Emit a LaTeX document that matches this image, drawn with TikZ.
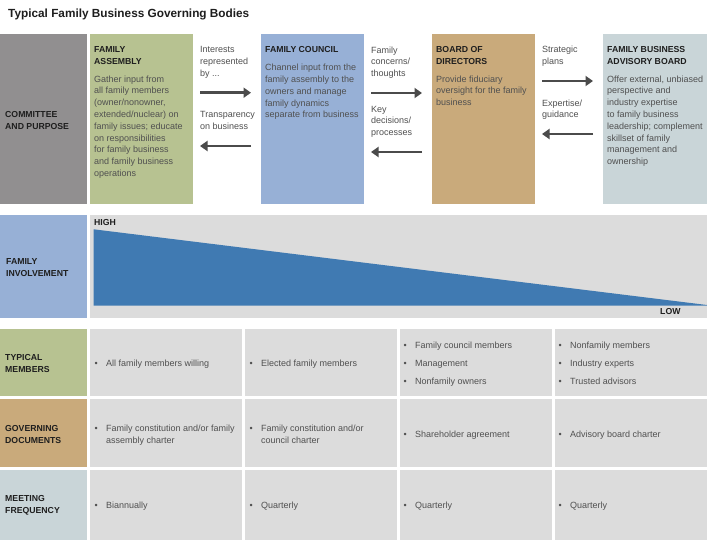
\documentclass[tikz,border=0pt]{standalone}
\usepackage{fontspec}
\setmainfont{Liberation Sans}
\usetikzlibrary{arrows.meta}
\definecolor{cgray}{RGB}{145,143,144}
\definecolor{cgreen}{RGB}{183,194,145}
\definecolor{cblue}{RGB}{151,176,214}
\definecolor{cbrown}{RGB}{201,170,123}
\definecolor{cadv}{RGB}{201,213,216}
\definecolor{ccell}{RGB}{220,220,220}
\definecolor{ctri}{RGB}{64,122,178}
\definecolor{hdc}{RGB}{30,30,30}
\definecolor{bdc}{RGB}{80,80,80}
\definecolor{arrc}{RGB}{75,75,75}
\newcommand\hdfont{\fontsize{8.7}{12}\selectfont\bfseries}
\newcommand\bdfont{\fontsize{9}{11.8}\selectfont}
\newcommand\bul[1]{\makebox[11.5pt][l]{\textbullet}#1}
\newcommand\bind{\hspace*{11.5pt}}
\begin{document}
% multi-line nodes are anchored at the baseline of their LAST line
\begin{tikzpicture}[x=1pt,y=-1pt,
  panel/.style={draw=none, inner sep=0pt, outer sep=0pt, anchor=north west},
  hd/.style={anchor=base west, inner sep=0pt, align=left, font=\hdfont, text=hdc},
  bd/.style={anchor=base west, inner sep=0pt, align=left, font=\bdfont, text=bdc},
  flow/.style={draw=arrc, line width=2.8pt, -{Triangle[length=7.5pt,width=10pt]}}]
\useasboundingbox[fill=white] (0,0) rectangle (707,544);

% title
\node[anchor=base west, inner sep=0pt, font=\fontsize{11.8}{14}\selectfont\bfseries, text=hdc] (title) at (8,17.5) {Typical Family Business Governing Bodies};

% top panels
\node[panel, fill=cgray, minimum width=87pt, minimum height=170pt] (cp) at (0,34) {};
\node[panel, fill=cgreen, minimum width=103pt, minimum height=170pt] (fa) at (90,34) {};
\node[panel, fill=cblue, minimum width=103pt, minimum height=170pt] (fc) at (261,34) {};
\node[panel, fill=cbrown, minimum width=103pt, minimum height=170pt] (bod) at (432,34) {};
\node[panel, fill=cadv, minimum width=104pt, minimum height=170pt] (adv) at (603,34) {};

\node[hd] (cpt) at (5,129.3) {COMMITTEE\\AND PURPOSE};

\node[hd] (fah) at (94,64.5) {FAMILY\\ASSEMBLY};
\node[bd] (fab) at (94,176.4) {Gather input from\\all family members\\(owner/nonowner,\\extended/nuclear) on\\family issues; educate\\on responsibilities\\for family business\\and family business\\operations};

\node[hd] (fch) at (265,52.5) {FAMILY COUNCIL};
\node[bd] (fcb) at (265,117.9) {Channel input from the\\family assembly to the\\owners and manage\\family dynamics\\separate from business};

\node[hd] (bodh) at (436,64.5) {BOARD OF\\DIRECTORS};
\node[bd] (bodb) at (436,105.6) {Provide fiduciary\\oversight for the family\\business};

\node[hd] (advh) at (607,64.5) {FAMILY BUSINESS\\ADVISORY BOARD};
\node[bd] (advb) at (607,164.6) {Offer external, unbiased\\perspective and\\industry expertise\\to family business\\leadership; complement\\skillset of family\\management and\\ownership};

% arrow labels
\node[bd] (l1) at (200,76.3) {Interests\\represented\\by ...};
\node[bd] (l2) at (200,129.5) {Transparency\\on business};
\node[bd] (l3) at (371,76.6) {Family\\concerns/\\thoughts};
\node[bd] (l4) at (371,135.6) {Key\\decisions/\\processes};
\node[bd] (l5) at (542,64.5) {Strategic\\plans};
\node[bd] (l6) at (542,117.8) {Expertise/\\guidance};

% arrows
\coordinate (a1s) at (200,92.7); \coordinate (a1e) at (251,92.7);
\coordinate (b1s) at (251,146);  \coordinate (b1e) at (200,146);
\coordinate (a2s) at (371,93);   \coordinate (a2e) at (422,93);
\coordinate (b2s) at (422,152);  \coordinate (b2e) at (371,152);
\coordinate (a3s) at (542,81);   \coordinate (a3e) at (593,81);
\coordinate (b3s) at (593,134);  \coordinate (b3e) at (542,134);
\draw[flow] (a1s) -- (a1e);
\draw[flow] (b1s) -- (b1e);
\draw[flow] (a2s) -- (a2e);
\draw[flow] (b2s) -- (b2e);
\draw[flow] (a3s) -- (a3e);
\draw[flow] (b3s) -- (b3e);

% family involvement
\node[panel, fill=cblue, minimum width=87pt, minimum height=103pt] (fi) at (0,215) {};
\node[panel, fill=ccell, minimum width=617pt, minimum height=103pt] (band) at (90,215) {};
\fill[ctri] (93.7,229.3) -- (707,305) -- (707,305.7) -- (93.7,305.7) -- cycle;
\node[hd] (fit) at (6,276.2) {FAMILY\\INVOLVEMENT};
\node[hd] (high) at (94,225.9) {HIGH};
\node[hd] (low) at (660,314.2) {LOW};

% table label panels
\node[panel, fill=cgreen, minimum width=87pt, minimum height=67pt] (tm) at (0,329) {};
\node[panel, fill=cbrown, minimum width=87pt, minimum height=68pt] (gd) at (0,399) {};
\node[panel, fill=cadv, minimum width=87pt, minimum height=70pt] (mf) at (0,470) {};
\node[hd] (tmt) at (5,372.5) {TYPICAL\\MEMBERS};
\node[hd] (gdt) at (5,443) {GOVERNING\\DOCUMENTS};
\node[hd] (mft) at (5,513.5) {MEETING\\FREQUENCY};

% table cells
\foreach \cx/\cn in {90/1,245/2,400/3,555/4}{
  \node[panel, fill=ccell, minimum width=152pt, minimum height=67pt] (r1c\cn) at (\cx,329) {};
  \node[panel, fill=ccell, minimum width=152pt, minimum height=68pt] (r2c\cn) at (\cx,399) {};
  \node[panel, fill=ccell, minimum width=152pt, minimum height=70pt] (r3c\cn) at (\cx,470) {};
}

% row 1
\node[bd] (t11) at (94.5,366.3) {\bul{All family members willing}};
\node[bd] (t12) at (249.5,366.3) {\bul{Elected family members}};
\node[bd] (t13a) at (403.5,348.7) {\bul{Family council members}};
\node[bd] (t13b) at (403.5,366.3) {\bul{Management}};
\node[bd] (t13c) at (403.5,384) {\bul{Nonfamily owners}};
\node[bd] (t14a) at (558.5,348.7) {\bul{Nonfamily members}};
\node[bd] (t14b) at (558.5,366.3) {\bul{Industry experts}};
\node[bd] (t14c) at (558.5,384) {\bul{Trusted advisors}};

% row 2
\node[bd] (t21) at (94.5,443.1) {\bul{Family constitution and/or family}\\\bind assembly charter};
\node[bd] (t22) at (249.5,443.1) {\bul{Family constitution and/or}\\\bind council charter};
\node[bd] (t23) at (403.5,437) {\bul{Shareholder agreement}};
\node[bd] (t24) at (558.5,437) {\bul{Advisory board charter}};

% row 3
\node[bd] (t31) at (94.5,508) {\bul{Biannually}};
\node[bd] (t32) at (249.5,508) {\bul{Quarterly}};
\node[bd] (t33) at (403.5,508) {\bul{Quarterly}};
\node[bd] (t34) at (558.5,508) {\bul{Quarterly}};
\end{tikzpicture}
\end{document}
